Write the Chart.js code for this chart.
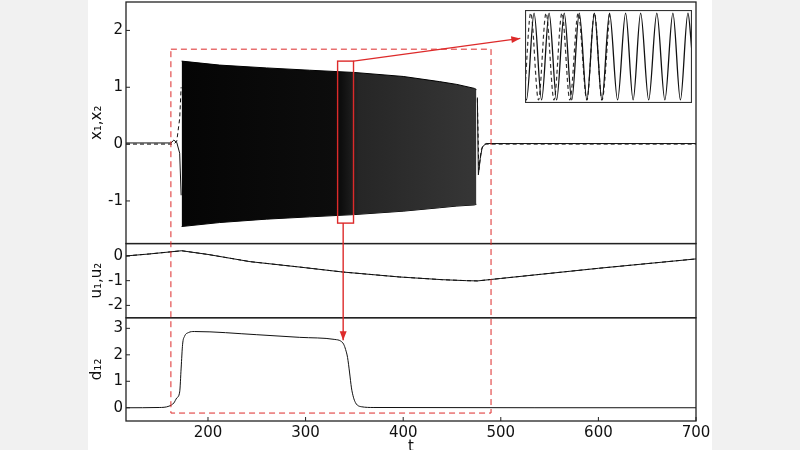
<!DOCTYPE html>
<html>
<head>
<meta charset="utf-8">
<script src="https://cdn.jsdelivr.net/npm/chart.js"></script>
<style>
body{margin:0;width:800px;height:450px;overflow:hidden;background:#f1f1f1}
#sheet{position:absolute;left:88px;top:0;width:624px;height:450px;background:#fff}
#insetBox{position:absolute;left:525px;top:10px;width:167px;height:93px;background:#fff}
</style>
</head>
<body>
<div id="sheet"><canvas id="main"></canvas></div>
<div id="insetBox"><canvas id="inset"></canvas></div>
<script>
// x1 / x2 outside the oscillating band (null = gap where the band is)
const x1T = [116, 162, 165, 168, 171, 172.5, 173, 476, 477, 479, 481, 485, 700];
const x1V = [0.02, 0.02, 0.07, 0.03, -0.16, -0.9, null, 0.82, -0.54, -0.25, -0.05, 0.01, 0.01];
const x2T = [116, 165, 168, 171, 172.5, 173, 476, 477.5, 480, 483, 700];
const x2V = [0.0, 0.0, 0.05, 0.45, 1.0, null, 0.8, -0.45, -0.1, 0.0, 0.0];

// envelope of the dense oscillation of x1,x2
const bandT = [173, 212, 260, 304, 350, 400, 437, 455, 473, 475];
const bandUpper = [1.46, 1.39, 1.34, 1.30, 1.26, 1.19, 1.10, 1.05, 0.98, 0.96];
const bandLower = [-1.45, -1.38, -1.32, -1.28, -1.24, -1.18, -1.12, -1.09, -1.07, -1.06];

// u1, u2
const uT = [116, 140, 173, 200, 243, 294, 338, 396, 440, 465, 476, 500, 600, 700];
const u1V = [0.0, 0.08, 0.21, 0.06, -0.23, -0.45, -0.65, -0.85, -0.96, -1.0, -1.01, -0.91, -0.5, -0.12];
const u2V = [0.0, 0.08, 0.21, 0.06, -0.23, -0.45, -0.65, -0.85, -0.96, -1.0, -1.01, -0.91, -0.5, -0.12];

// d12
const dT = [116, 150, 160, 165, 168, 171, 172.5, 174, 176, 180, 186, 250, 294, 330, 336, 339, 341, 343, 345, 347, 349, 351, 353, 357, 370, 700];
const dV = [0, 0.01, 0.06, 0.18, 0.37, 0.6, 1.5, 2.4, 2.7, 2.84, 2.88, 2.76, 2.66, 2.58, 2.52, 2.4, 2.2, 1.9, 1.35, 0.75, 0.4, 0.2, 0.1, 0.04, 0.01, 0];

// inset: zoom of 333..349
const insetT = [333.0, 333.14, 333.87, 334.59, 335.31, 336.03, 336.76, 337.48, 338.2, 338.93, 339.65, 340.37, 341.1, 341.87, 342.64, 343.36, 344.08, 344.85, 345.63, 346.4, 347.17, 347.89, 348.61, 349.0];
const insetSolid = [-0.95, -1, 1, -1, 1, -1, 1, -1, 1, -1, 1, -1, 1, -1, 1, -1, 1, -1, 1, -1, 1, -1, 1, 0.1];
const insetDashT = [333.0, 333.55, 334.29, 335.02, 335.78, 336.54, 337.3, 338.1, 338.93, 339.65, 340.37, 341.1];
const insetDash = [-0.72, 1, -1, 1, -1, 1, -1, 1, -1, 1, -1, 1];

const xTicks = [200, 300, 400, 500, 600, 700];
const xPanelTicks = [-1, 0, 1, 2];
const uPanelTicks = [-2, -1, 0];
const dPanelTicks = [0, 1, 2, 3];

// annotation anchors in data units
const zoomRegion = {t0: 162, t1: 490, top: 1.67, bottom: -0.2};     // top in x-panel, bottom in d-panel
const pickBox = {t0: 332.8, t1: 349.1, top: 1.46, bottom: -1.39};
const arrowToInset = {t: 520, y: 1.86};
const arrowDown = {t: 338.5, y: 2.55};

const pts = (t, v) => t.map((x, i) => ({x: x, y: v[i]}));
const FONT = {family: "'DejaVu Sans'", size: 15};
const RED = '#dd2a2a';

function bandFill(c) {
    const chart = c.chart;
    if (!chart.chartArea) return '#111';
    const sx = chart.scales.x;
    const g = chart.ctx.createLinearGradient(sx.getPixelForValue(173), 0, sx.getPixelForValue(475), 0);
    g.addColorStop(0, '#050505');
    g.addColorStop(0.54, '#0d0d0d');
    g.addColorStop(0.6, '#262626');
    g.addColorStop(1, '#363636');
    return g;
}

function arrow(ctx, x0, y0, x1, y1) {
    ctx.beginPath(); ctx.moveTo(x0, y0); ctx.lineTo(x1, y1); ctx.stroke();
    const a = Math.atan2(y1 - y0, x1 - x0), L = 9, W = 3.5;
    ctx.beginPath();
    ctx.moveTo(x1, y1);
    ctx.lineTo(x1 - L * Math.cos(a) + W * Math.sin(a), y1 - L * Math.sin(a) - W * Math.cos(a));
    ctx.lineTo(x1 - L * Math.cos(a) - W * Math.sin(a), y1 - L * Math.sin(a) + W * Math.cos(a));
    ctx.closePath(); ctx.fill();
}

const overlay = {
    id: 'overlay',
    afterDatasetsDraw(chart) {
        const {ctx, chartArea: a, scales: s} = chart;
        const X = v => s.x.getPixelForValue(v);
        ctx.save();
        ctx.strokeStyle = '#222'; ctx.lineWidth = 1.3;
        for (const id of ['yTop', 'yMid', 'yBot']) {
            const sc = s[id];
            ctx.strokeRect(a.left, sc.top, a.right - a.left, sc.bottom - sc.top);
            ctx.lineWidth = 1;
            for (const tk of sc.ticks) {
                const y = sc.getPixelForValue(tk.value);
                ctx.beginPath(); ctx.moveTo(a.left, y); ctx.lineTo(a.left + 4, y); ctx.stroke();
            }
            ctx.lineWidth = 1.3;
        }
        ctx.lineWidth = 1;
        for (const tk of s.x.ticks) {
            const x = X(tk.value);
            ctx.beginPath(); ctx.moveTo(x, a.bottom); ctx.lineTo(x, a.bottom - 4); ctx.stroke();
        }
        // dashed zoom region
        ctx.strokeStyle = RED; ctx.lineWidth = 1; ctx.setLineDash([6, 4]);
        const zx0 = X(zoomRegion.t0), zx1 = X(zoomRegion.t1);
        const zy0 = s.yTop.getPixelForValue(zoomRegion.top), zy1 = s.yBot.getPixelForValue(zoomRegion.bottom);
        ctx.strokeRect(zx0, zy0, zx1 - zx0, zy1 - zy0);
        ctx.setLineDash([]);
        // picked window + arrows
        ctx.lineWidth = 1.4; ctx.fillStyle = RED;
        const px0 = X(pickBox.t0), px1 = X(pickBox.t1);
        const py0 = s.yTop.getPixelForValue(pickBox.top), py1 = s.yTop.getPixelForValue(pickBox.bottom);
        ctx.strokeRect(px0, py0, px1 - px0, py1 - py0);
        arrow(ctx, px1, py0, X(arrowToInset.t), s.yTop.getPixelForValue(arrowToInset.y));
        arrow(ctx, X(arrowDown.t), py1, X(arrowDown.t), s.yBot.getPixelForValue(arrowDown.y));
        ctx.restore();
    }
};

const yAxis = (title, weight, min, max, ticks) => ({
    type: 'linear', position: 'left', stack: 'panels', stackWeight: weight, min: min, max: max,
    grid: {display: false, drawTicks: false}, border: {display: false},
    afterBuildTicks: sc => { sc.ticks = ticks.map(v => ({value: v})); },
    ticks: {font: FONT, color: '#111', padding: 3, autoSkip: false},
    title: {display: true, text: title, font: FONT, color: '#111', padding: {top: 0, bottom: 0}},
    afterFit: sc => { sc.width = 38; sc.paddingTop = 0; sc.paddingBottom = 0; }
});

const line = (data, axis, dash, extra) => Object.assign({
    data: data, yAxisID: axis, borderColor: '#111', borderWidth: 1, pointRadius: 0,
    borderDash: dash ? [4, 3] : [], fill: false, tension: 0, spanGaps: false
}, extra || {});

new Chart(document.getElementById('main'), {
    type: 'line',
    data: {datasets: [
        line(pts(x1T, x1V), 'yTop', false),
        line(pts(x2T, x2V), 'yTop', true),
        line(pts(bandT, bandUpper), 'yTop', false, {fill: '+1', backgroundColor: bandFill, borderColor: '#000'}),
        line(pts(bandT, bandLower), 'yTop', false, {borderColor: '#000'}),
        line(pts(uT, u1V), 'yMid', false),
        line(pts(uT, u2V), 'yMid', true),
        line(pts(dT, dV), 'yBot', false, {cubicInterpolationMode: 'monotone'})
    ]},
    options: {
        responsive: true, maintainAspectRatio: false, animation: false,
        layout: {padding: {top: 2, right: 16, left: 0, bottom: 0}},
        plugins: {legend: {display: false}, tooltip: {enabled: false}},
        scales: {
            x: {type: 'linear', min: 116, max: 700,
                grid: {display: false, drawTicks: false}, border: {display: false},
                afterBuildTicks: sc => { sc.ticks = xTicks.map(v => ({value: v})); },
                ticks: {font: FONT, color: '#111', padding: 3, maxRotation: 0, autoSkip: false},
                title: {display: true, text: 't', font: Object.assign({lineHeight: 1}, FONT), color: '#111', padding: {top: 0, bottom: -5}},
                afterFit: sc => { sc.height = 29; sc.paddingLeft = 0; sc.paddingRight = 0; }},
            // stacked panels: listed bottom first
            yBot: yAxis('d\u2081\u2082', 103, -0.5, 3.4, dPanelTicks),
            yMid: yAxis('u\u2081,u\u2082', 74, -2.5, 0.5, uPanelTicks),
            yTop: yAxis('x\u2081,x\u2082', 241, -1.75, 2.5, xPanelTicks)
        }
    },
    plugins: [overlay]
});

const frame = {
    id: 'frame',
    afterDatasetsDraw(chart) {
        const {ctx, chartArea: a} = chart;
        ctx.save(); ctx.strokeStyle = '#333'; ctx.lineWidth = 1.2;
        ctx.strokeRect(a.left + 0.5, a.top + 0.5, a.right - a.left - 1, a.bottom - a.top - 1);
        ctx.restore();
    }
};

new Chart(document.getElementById('inset'), {
    type: 'line',
    data: {datasets: [
        {data: pts(insetT, insetSolid), borderColor: '#111', borderWidth: 1.3, pointRadius: 0, cubicInterpolationMode: 'monotone'},
        {data: pts(insetDashT, insetDash), borderColor: '#333', borderWidth: 1.2, borderDash: [4, 3], pointRadius: 0, cubicInterpolationMode: 'monotone'}
    ]},
    options: {
        responsive: true, maintainAspectRatio: false, animation: false,
        layout: {padding: 0},
        plugins: {legend: {display: false}, tooltip: {enabled: false}},
        scales: {
            x: {type: 'linear', min: 333, max: 349, display: false},
            y: {min: -1.07, max: 1.07, display: false}
        }
    },
    plugins: [frame]
});
</script>
</body>
</html>
